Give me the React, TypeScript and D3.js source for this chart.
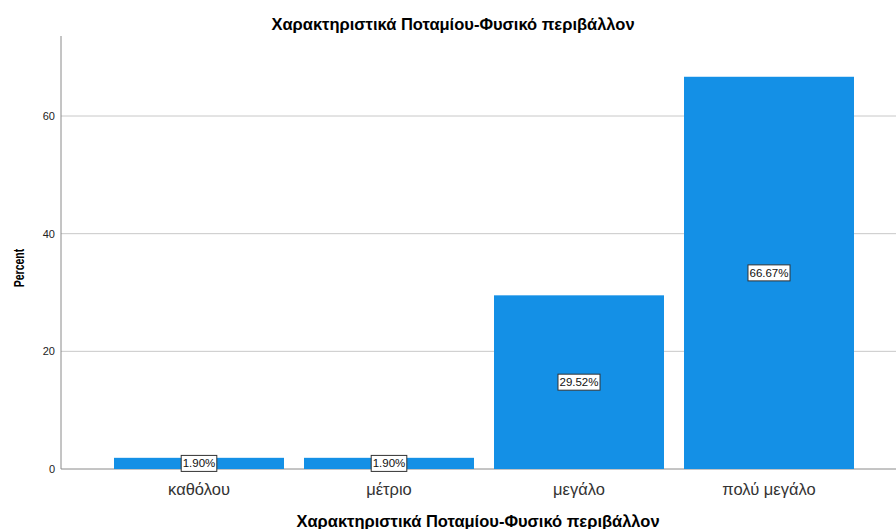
import React from "react";
import * as d3 from "d3";

const W = 896;
const H = 529;

const categories = ["καθόλου", "μέτριο", "μεγάλο", "πολύ μεγάλο"];
const percents = [1.9, 1.9, 29.52, 66.67];
const yTicks = [0, 20, 40, 60];

const TITLE = "Χαρακτηριστικά Ποταμίου-Φυσικό περιβάλλον";
const FONT = "'Liberation Sans', Arial, sans-serif";

const measure = (text: string, font: string) => {
  const ctx = document.createElement("canvas").getContext("2d");
  if (!ctx) return text.length * 6;
  ctx.font = font;
  return ctx.measureText(text).width;
};

const App = () => {
  React.useEffect(() => {
    document.body.style.margin = "0";
  }, []);

  const plotLeft = 61;
  const plotRight = W;

  const x = d3
    .scaleBand<string>()
    .domain(categories)
    .range([104, 864])
    .paddingInner(20 / 190)
    .paddingOuter(10 / 190);

  const y = d3.scaleLinear().domain([0, 73.6]).range([469, 36]);

  return (
    <svg width={W} height={H} style={{ display: "block" }} fontFamily={FONT}>
      <rect width={W} height={H} fill="#fff" />
      <text x={453} y={30} textAnchor="middle" fontSize={16.5} fontWeight="bold" fill="#000">
        {TITLE}
      </text>

      {/* grid */}
      {yTicks.map((t) => (
        <g key={t}>
          <line
            x1={plotLeft}
            x2={plotRight}
            y1={y(t)}
            y2={y(t)}
            stroke={t === 0 ? "#8a8a8a" : "#c8c8c8"}
            strokeWidth={1}
          />
          <text x={55} y={y(t) + 4} textAnchor="end" fontSize={11} fill="#222">
            {t}
          </text>
        </g>
      ))}
      <line x1={plotLeft} x2={plotLeft} y1={y.range()[1]} y2={y(0)} stroke="#8a8a8a" />

      {/* bars */}
      {categories.map((c, i) => (
        <rect
          key={c}
          x={x(c)}
          y={y(percents[i])}
          width={x.bandwidth()}
          height={y(0) - y(percents[i])}
          fill="#1490e6"
        />
      ))}

      {/* value labels */}
      {categories.map((c, i) => {
        const label = percents[i].toFixed(2) + "%";
        const w = measure(label, `11.5px ${FONT}`) + 3;
        const cx = (x(c) || 0) + x.bandwidth() / 2;
        const cy = (y(percents[i]) + y(0)) / 2;
        return (
          <g key={c}>
            <rect
              x={cx - w / 2}
              y={cy - 8}
              width={w}
              height={16}
              fill="#fff"
              stroke="#333"
              strokeWidth={1}
            />
            <text x={cx} y={cy + 4} textAnchor="middle" fontSize={11.5} fill="#111">
              {label}
            </text>
          </g>
        );
      })}

      {/* x tick labels */}
      {categories.map((c) => (
        <text
          key={c}
          x={(x(c) || 0) + x.bandwidth() / 2}
          y={495}
          textAnchor="middle"
          fontSize={16.5}
          fill="#333"
        >
          {c}
        </text>
      ))}

      <text x={478} y={527} textAnchor="middle" fontSize={16.5} fontWeight="bold" fill="#000">
        {TITLE}
      </text>
      <text
        transform={`translate(24,${268}) rotate(-90) scale(1,1.45)`}
        textAnchor="middle"
        fontSize={10.5}
        fontWeight="bold"
        fill="#000"
      >
        Percent
      </text>
    </svg>
  );
};

export default App;
